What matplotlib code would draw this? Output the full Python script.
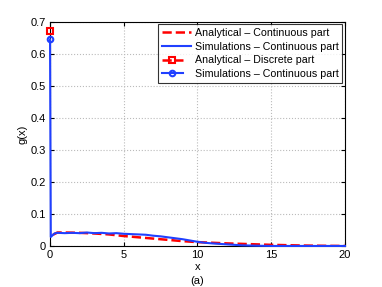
import numpy as np
import matplotlib
matplotlib.use("Agg")
import matplotlib.pyplot as plt
from matplotlib.legend_handler import HandlerLine2D

plt.rcParams["font.family"] = ["Liberation Sans", "DejaVu Sans"]

# analytical continuous part
x_ana = [0.2, 0.5, 1, 2, 3, 4, 5, 6, 7, 8, 9, 10, 11, 12, 13, 14, 15, 16, 17, 18, 19, 20]
g_ana = [0.035, 0.042, 0.042, 0.041, 0.039, 0.036, 0.031, 0.027, 0.023, 0.019, 0.015,
         0.012, 0.010, 0.008, 0.0065, 0.005, 0.0035, 0.0025, 0.0015, 0.0008, 0.0003, 0.0]

# simulated continuous part (slightly noisy)
x_sim = [0.0, 0.05, 0.3, 0.5, 1, 1.5, 2, 2.5, 3, 3.5, 4, 4.5, 5, 5.5, 6, 6.5, 7, 7.5,
         8, 8.5, 9, 9.5, 10, 10.5, 11, 11.5, 12, 12.5, 13, 14, 15, 16, 17, 18, 19, 20]
g_sim = [0.645, 0.028, 0.039, 0.041, 0.040, 0.041, 0.040, 0.042, 0.040, 0.041, 0.039,
         0.040, 0.038, 0.037, 0.036, 0.035, 0.032, 0.030, 0.027, 0.024, 0.021, 0.017,
         0.013, 0.010, 0.008, 0.0065, 0.005, 0.0035, 0.002, 0.0008, 0.0, 0.0, 0.0, 0.0, 0.0, 0.0]

# discrete parts (mass at x = 0)
x_disc = [0.0]
g_disc_ana = [0.67]
g_disc_sim = [0.645]

red = "#ff0000"
blue = "#2040ff"


class MarkerAtEnd(HandlerLine2D):
    # matlab style legend: short line sample ending in the marker
    def get_xdata(self, legend, xdescent, ydescent, width, height, fontsize):
        x0 = -xdescent
        x1 = x0 + 0.72 * width
        return np.array([x0, x1]), np.array([x1])


fig = plt.figure(figsize=(3.82, 2.87), dpi=100)
ax = fig.add_axes([0.131, 0.143, 0.772, 0.781])

ax.plot(x_ana, g_ana, "--", color=red, lw=1.8, label="Analytical – Continuous part")
ax.plot(x_sim, g_sim, "-", color=blue, lw=1.5, label="Simulations – Continuous part",
        clip_on=False, zorder=4)
h_da, = ax.plot(x_disc, g_disc_ana, "--s", color=red, lw=1.8, ms=4, mfc="none", mew=1.5,
                label="Analytical – Discrete part", clip_on=False, zorder=5)
h_ds, = ax.plot(x_disc, g_disc_sim, "-o", color=blue, lw=1.5, ms=4, mfc="none", mew=1.5,
                label="Simulations – Continuous part", clip_on=False, zorder=5)

ax.set_xlim(0, 20)
ax.set_ylim(0, 0.7)
ax.set_xticks([0, 5, 10, 15, 20])
ax.set_yticks(np.arange(0, 0.71, 0.1))
ax.set_yticklabels(["0", "0.1", "0.2", "0.3", "0.4", "0.5", "0.6", "0.7"])
ax.tick_params(direction="in", top=True, right=True, labelsize=8, length=3, pad=3)
ax.grid(True, linestyle=":", color="#bbbbbb", lw=0.8)
for s in ax.spines.values():
    s.set_linewidth(0.8)

ax.set_xlabel("x", fontsize=8, labelpad=1)
ax.set_ylabel("g(x)", fontsize=8, labelpad=2)
fig.text(0.5 * (0.131 + 0.903), 0.005, "(a)", ha="center", va="bottom", fontsize=8)

hm = MarkerAtEnd(numpoints=1)
leg = ax.legend(loc="upper right", fontsize=7.7, frameon=True, fancybox=False,
                borderpad=0.35, labelspacing=0.33, handlelength=2.75, handletextpad=0.35,
                borderaxespad=0.25, handler_map={h_da: hm, h_ds: hm})
leg.get_frame().set_edgecolor("black")
leg.get_frame().set_linewidth(0.8)

fig.savefig("out.png", dpi=100)
